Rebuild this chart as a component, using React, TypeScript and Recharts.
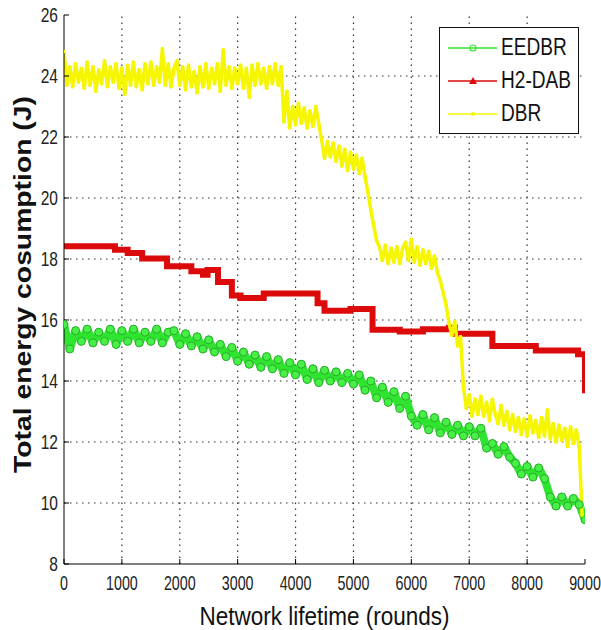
import { LineChart, Line, XAxis, YAxis, Legend } from 'recharts'

const X_TICKS = [0, 1000, 2000, 3000, 4000, 5000, 6000, 7000, 8000, 9000]
const Y_TICKS = [8, 10, 12, 14, 16, 18, 20, 22, 24, 26]

// EEDBR, one value every 100 rounds
const EEDBR_STEP = 100
const EEDBR = [
  15.85, 15.05, 15.65, 15.3, 15.7, 15.25, 15.6, 15.3, 15.7, 15.2,
  15.65, 15.3, 15.7, 15.25, 15.6, 15.3, 15.7, 15.25, 15.6, 15.65,
  15.2, 15.55, 15.15, 15.45, 15.05, 15.35, 14.95, 15.2, 14.8, 15.1,
  14.65, 14.95, 14.55, 14.85, 14.45, 14.8, 14.4, 14.7, 14.25, 14.6,
  14.2, 14.55, 14.05, 14.4, 13.95, 14.35, 14.0, 14.3, 13.95, 14.25,
  13.9, 14.2, 13.7, 14.0, 13.45, 13.8, 13.3, 13.65, 13.1, 13.5,
  12.85, 12.55, 12.9, 12.4, 12.8, 12.3, 12.65, 12.25, 12.55, 12.2,
  12.5, 12.2, 12.45, 11.8, 11.95, 11.6, 11.85, 11.5, 11.3, 10.95,
  11.2, 10.85, 11.15, 10.8, 10.2, 9.9, 10.2, 9.9, 10.15, 9.95,
  9.45,
]

// H2-DAB is a staircase: rounds where the level changes
const H2DAB_ROUNDS = [
  0, 880, 1100, 1350, 1780, 2200, 2400, 2480, 2660, 2900, 3050, 3450,
  4380, 4500, 4950, 5330, 5800, 6200, 6650, 6750, 7400, 8150, 8880, 9000, 9000,
]
const H2DAB = [
  18.42, 18.3, 18.2, 18.02, 17.76, 17.6, 17.48, 17.64, 17.25, 16.8, 16.72, 16.87,
  16.55, 16.3, 16.36, 15.68, 15.62, 15.7, 15.75, 15.55, 15.15, 15.0, 14.88, 14.88, 13.6,
]

// DBR, one value every 50 rounds
const DBR_STEP = 50
const DBR = [
  24.8, 23.7, 24.3, 23.65, 24.4, 23.8, 24.25, 23.6, 24.45, 23.7, 24.3, 23.5, 24.2, 23.75, 24.5, 23.65, 24.3, 23.8, 24.4, 23.6,
  24.25, 23.4, 24.35, 23.7, 24.45, 23.65, 24.2, 23.55, 24.4, 23.75, 24.45, 23.7, 24.3, 23.8, 24.9, 23.7, 24.4, 23.65, 24.25, 24.5,
  23.7, 24.3, 23.55, 24.35, 23.65, 24.15, 23.45, 24.3, 23.65, 24.4, 23.6, 24.25, 23.75, 24.4, 23.5, 24.85, 23.7, 24.3, 23.6, 24.25,
  23.75, 24.35, 23.6, 24.25, 23.3, 24.35, 23.7, 24.4, 23.75, 24.25, 23.6, 24.3, 23.75, 24.4, 23.7, 24.3, 22.5, 23.5, 22.3, 23.0,
  22.4, 23.1, 22.45, 22.95, 22.3, 22.85, 22.35, 23.0, 22.45, 21.9, 21.3, 21.85, 21.35, 21.8, 21.2, 21.7, 21.05, 21.6, 20.9, 21.5,
  20.95, 21.4, 20.8, 21.3, 20.7, 20.2, 19.6, 19.1, 18.6, 18.4, 17.95, 18.45, 17.85, 18.35, 17.9, 18.4, 17.85, 18.35, 18.55, 17.95,
  18.65, 17.9, 18.4, 17.8, 18.3, 17.85, 18.25, 17.7, 18.1, 17.55, 17.3, 16.9, 16.5, 15.9, 15.5, 15.95, 15.15, 15.45, 13.8, 13.1,
  13.55, 12.85, 13.4, 12.9, 13.5, 12.85, 13.3, 12.7, 13.4, 12.9, 12.6, 13.2, 12.55, 13.0, 12.4, 12.9, 12.35, 12.8, 12.25, 12.75,
  12.2, 12.85, 12.3, 12.7, 12.15, 12.8, 12.2, 13.05, 12.1, 12.6, 12.0, 12.55, 12.05, 12.45, 11.85, 12.5, 11.95, 12.4, 11.85, 9.6,
]

const GREEN = '#2fe42f'
const RED = '#dc0a0a'
const YELLOW = '#f6f600'
const FONT = "'Liberation Sans', Arial, sans-serif"

const eedbrData = EEDBR.map((v, i) => ({ x: i * EEDBR_STEP, y: v }))
const h2dabData = H2DAB.map((v, i) => ({ x: H2DAB_ROUNDS[i], y: v }))
const dbrData = DBR.map((v, i) => ({ x: i * DBR_STEP, y: v }))

// dotted grid, drawn as two-point lines through the chart scales
const Y_MIN = Y_TICKS[0]
const Y_MAX = Y_TICKS[Y_TICKS.length - 1]
const X_MIN = X_TICKS[0]
const X_MAX = X_TICKS[X_TICKS.length - 1]
const gridV = X_TICKS.slice(1, -1).map((t) => [{ x: t, y: Y_MIN }, { x: t, y: Y_MAX }])
const gridH = Y_TICKS.slice(1, -1).map((t) => [{ x: X_MIN, y: t }, { x: X_MAX, y: t }])

const LEGEND_ITEMS = [
  { name: 'EEDBR', color: GREEN, marker: 'circle' },
  { name: 'H2-DAB', color: RED, marker: 'triangle' },
  { name: 'DBR', color: YELLOW, marker: 'dot' },
]

function XTick({ x, y, payload }: any) {
  return (
    <g transform={`translate(${x},${y})`}>
      <text transform="scale(0.68,1)" textAnchor="middle" y={21} fontSize={21} fill="#222" fontFamily={FONT}>
        {payload.value}
      </text>
    </g>
  )
}

function YTick({ x, y, payload }: any) {
  return (
    <g transform={`translate(${x},${y})`}>
      <text transform="scale(0.74,1)" textAnchor="end" y={7} fontSize={21} fill="#222" fontFamily={FONT}>
        {payload.value}
      </text>
    </g>
  )
}

function LegendBox() {
  return (
    <div style={{ width: 140, height: 107, border: '1.5px solid #111', background: '#fff', boxSizing: 'border-box', paddingTop: 3 }}>
      {LEGEND_ITEMS.map((item) => (
        <div key={item.name} style={{ display: 'flex', alignItems: 'center', height: 33, paddingLeft: 8, whiteSpace: 'nowrap' }}>
          <svg width={53} height={14} style={{ flex: 'none' }}>
            <line x1={0} x2={49} y1={7} y2={7} stroke={item.color} strokeWidth={1.5} />
            {item.marker === 'circle' && <circle cx={25} cy={7} r={3} fill="none" stroke={item.color} strokeWidth={1.2} />}
            {item.marker === 'triangle' && <polygon points="25,3 29,10 21,10" fill={item.color} />}
            {item.marker === 'dot' && <circle cx={25} cy={7} r={2} fill={item.color} />}
          </svg>
          <span style={{ fontFamily: FONT, fontSize: 23, color: '#111', display: 'inline-block', whiteSpace: 'nowrap', transform: 'scaleX(0.83)', transformOrigin: 'left center', lineHeight: '33px' }}>
            {item.name}
          </span>
        </div>
      ))}
    </div>
  )
}

export default function App() {
  return (
    <div style={{ position: 'absolute', left: 0, top: 0, width: 601, height: 630, background: '#fff' }}>
      <LineChart width={601} height={630} margin={{ top: 15, right: 16, left: 0, bottom: 0 }}>
        <XAxis
          type="number"
          dataKey="x"
          domain={[0, 9000]}
          ticks={X_TICKS}
          allowDataOverflow
          height={66}
          stroke="#000"
          tickSize={-5}
          tickMargin={10}
          tick={<XTick />}
          label={{
            content: ({ viewBox }: any) => (
              <text
                transform={`translate(${viewBox.x + viewBox.width / 2},${viewBox.y + 61}) scale(0.9,1)`}
                textAnchor="middle"
                fontSize={25}
                fill="#111"
                fontFamily={FONT}
              >
                Network lifetime (rounds)
              </text>
            ),
          }}
        />
        <XAxis xAxisId="top" orientation="top" type="number" dataKey="x" domain={[0, 9000]} ticks={X_TICKS} height={0} stroke="#000" tickSize={-5} tick={false} />
        <YAxis
          type="number"
          domain={[8, 26]}
          ticks={Y_TICKS}
          allowDataOverflow
          width={64}
          stroke="#000"
          tickSize={-5}
          tickMargin={11}
          tick={<YTick />}
          label={{
            content: ({ viewBox }: any) => (
              <text
                transform={`translate(${viewBox.x + 31},${viewBox.y + viewBox.height / 2 - 5}) rotate(-90) scale(1.18,1)`}
                textAnchor="middle"
                fontSize={24}
                fontWeight="bold"
                fill="#111"
                fontFamily={FONT}
              >
                Total energy cosumption (J)
              </text>
            ),
          }}
        />
        <YAxis yAxisId="right" orientation="right" type="number" domain={[8, 26]} ticks={Y_TICKS} width={0} stroke="#000" tickSize={-5} tick={false} />
        {gridV.map((d, i) => (
          <Line key={`gv${i}`} data={d} dataKey="y" stroke="#333" strokeWidth={1.2} strokeDasharray="1.5 4.5" dot={false} legendType="none" isAnimationActive={false} />
        ))}
        {gridH.map((d, i) => (
          <Line key={`gh${i}`} data={d} dataKey="y" stroke="#333" strokeWidth={1.2} strokeDasharray="1.5 4.5" dot={false} legendType="none" isAnimationActive={false} />
        ))}
        <Legend
          layout="vertical"
          align="center"
          verticalAlign="middle"
          content={() => <LegendBox />}
          wrapperStyle={{ top: 27, left: 439, width: 140, height: 107 }}
        />
        <Line
          data={eedbrData}
          dataKey="y"
          name="EEDBR"
          type="linear"
          stroke={GREEN}
          strokeWidth={8}
          strokeLinejoin="round"
          dot={{ r: 4, fill: '#46f046', stroke: '#2aab2a', strokeWidth: 1 }}
          isAnimationActive={false}
        />
        <Line
          data={h2dabData}
          dataKey="y"
          name="H2-DAB"
          type="stepAfter"
          stroke={RED}
          strokeWidth={6}
          dot={false}
          isAnimationActive={false}
        />
        <Line
          data={dbrData}
          dataKey="y"
          name="DBR"
          type="linear"
          stroke={YELLOW}
          strokeWidth={3.5}
          strokeLinejoin="round"
          dot={{ r: 1.8, fill: YELLOW, stroke: 'none' }}
          isAnimationActive={false}
        />
      </LineChart>
    </div>
  )
}
